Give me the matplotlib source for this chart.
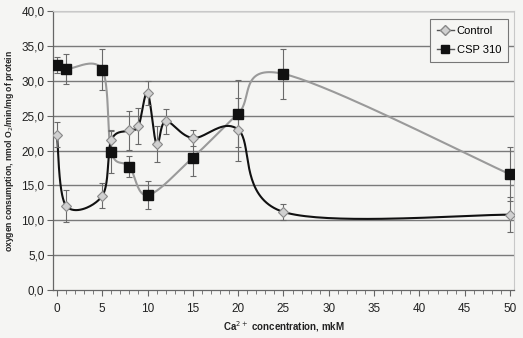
import numpy as np
import matplotlib.pyplot as plt
from matplotlib.ticker import MultipleLocator, FuncFormatter

plt.rcParams['font.family'] = ['Liberation Sans', 'DejaVu Sans']

# dane
ca = [0, 1, 5, 6, 8, 9, 10, 11, 12, 15, 20, 25, 50]
control = [22.3, 12.1, 13.5, 21.5, 22.9, 23.5, 28.3, 20.9, 24.2, 21.8, 23.0, 11.2, 10.8]
control_err = [1.8, 2.3, 1.8, 1.4, 2.8, 2.6, 1.7, 2.6, 1.8, 1.1, 4.5, 1.2, 2.5]

ca_csp = [0, 1, 5, 6, 8, 10, 15, 20, 25, 50]
csp = [32.3, 31.7, 31.6, 19.8, 17.7, 13.6, 19.0, 25.3, 31.0, 16.6]
csp_err = [1.1, 2.2, 2.9, 3.0, 1.5, 2.0, 2.6, 4.8, 3.6, 3.9]


def smooth(x, y, n=40):
    # gladka linia jak w Excelu (krzywe Beziera, Catmull-Rom)
    x = np.asarray(x, float)
    y = np.asarray(y, float)
    pts = np.column_stack([x, y])
    out = []
    t = np.linspace(0, 1, n)
    for i in range(len(pts) - 1):
        p0 = pts[i - 1] if i > 0 else pts[i]
        p1 = pts[i]
        p2 = pts[i + 1]
        p3 = pts[i + 2] if i + 2 < len(pts) else pts[i + 1]
        c1 = p1 + (p2 - p0) / 6
        c2 = p2 - (p3 - p1) / 6
        seg = ((1 - t) ** 3)[:, None] * p1 + (3 * (1 - t) ** 2 * t)[:, None] * c1 \
            + (3 * (1 - t) * t ** 2)[:, None] * c2 + (t ** 3)[:, None] * p2
        out.append(seg)
    out = np.vstack(out)
    return out[:, 0], out[:, 1]


bg = '#f5f5f3'
fig = plt.figure(figsize=(5.23, 3.38), dpi=100, facecolor=bg)
ax = fig.add_axes([0.101, 0.142, 0.882, 0.825], facecolor=bg)

for v in range(5, 45, 5):
    ax.axhline(v, color='#7a7a7a', lw=1.0, zorder=0)

sx, sy = smooth(ca_csp, csp)
ax.plot(sx, sy, color='#9a9a9a', lw=1.5, zorder=2)
sx, sy = smooth(ca, control)
ax.plot(sx, sy, color='#111111', lw=1.5, zorder=3)

ax.errorbar(ca_csp, csp, yerr=csp_err, fmt='none', ecolor='#6a6a6a', elinewidth=0.8,
            capsize=2.5, capthick=0.8, zorder=4)
ax.errorbar(ca, control, yerr=control_err, fmt='none', ecolor='#6a6a6a', elinewidth=0.8,
            capsize=2.5, capthick=0.8, zorder=4)

ax.plot(ca_csp, csp, 's', color='#111111', ms=6.5, mec='#111111', zorder=5)
ax.plot(ca, control, 'D', color='#d0d0d0', ms=5, mec='#888888', mew=0.8, zorder=6)

# legenda
h1, = ax.plot([], [], '-D', color='#555555', mfc='#d0d0d0', mec='#888888', ms=5, lw=1)
h2, = ax.plot([], [], '-s', color='#555555', mfc='#111111', mec='#111111', ms=6, lw=1)
leg = ax.legend([h1, h2], ['Control', 'CSP 310'], loc='upper right',
                bbox_to_anchor=(0.998, 0.99), fontsize=8, fancybox=False,
                framealpha=1, facecolor=bg, edgecolor='#777777',
                handlelength=1.6, handletextpad=0.2, labelspacing=0.8, borderpad=0.6)
leg.get_frame().set_linewidth(0.8)

ax.set_xlim(-0.45, 50.45)
ax.set_ylim(0, 40)
ax.xaxis.set_major_locator(MultipleLocator(5))
ax.xaxis.set_minor_locator(MultipleLocator(1))
ax.yaxis.set_major_locator(MultipleLocator(5))
ax.yaxis.set_major_formatter(FuncFormatter(lambda v, p: f'{v:.1f}'.replace('.', ',')))

for s in ['top', 'right']:
    ax.spines[s].set_color('#c8c8c8')
    ax.spines[s].set_linewidth(0.8)
for s in ['left', 'bottom']:
    ax.spines[s].set_color('#666666')
    ax.spines[s].set_linewidth(0.9)

ax.tick_params(axis='both', which='both', direction='out', color='#666666', labelsize=8.5,
               labelcolor='#222222')
ax.tick_params(axis='x', which='major', length=4, pad=5)
ax.tick_params(axis='x', which='minor', length=3)
ax.tick_params(axis='y', length=4, pad=2)

ax.set_ylabel('oxygen consumption, nmol O$_2$/min/mg of protein', fontsize=6.2,
              fontweight='bold', color='#222222')
ax.yaxis.set_label_coords(-0.08, 0.5)
ax.set_xlabel('Ca$^{2+}$ concentration, mkM', fontsize=7, fontweight='bold',
              color='#222222')
ax.xaxis.set_label_coords(0.5, -0.105)

plt.savefig('out.png', dpi=100, facecolor=bg)
